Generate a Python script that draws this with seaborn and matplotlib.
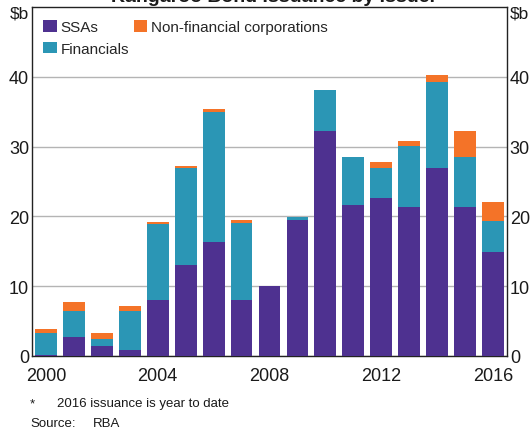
import matplotlib
matplotlib.use("Agg")
import matplotlib.pyplot as plt
import seaborn as sns
import numpy as np
import pandas as pd
from matplotlib.ticker import FixedLocator, MultipleLocator

years = [str(y) for y in range(2000, 2017)]
ssas = [0.2, 2.7, 1.5, 0.8, 8.0, 13.0, 16.4, 8.0, 10.0, 19.5, 32.2, 21.7, 22.6, 21.4, 27.0, 21.3, 14.9]
financials = [3.1, 3.7, 1.0, 5.6, 10.9, 14.0, 18.6, 11.0, 0.0, 0.35, 5.95, 6.8, 4.3, 8.65, 12.2, 7.2, 4.4]
nonfin = [0.5, 1.3, 0.8, 0.7, 0.25, 0.25, 0.45, 0.45, 0.0, 0.0, 0.0, 0.0, 0.9, 0.7, 1.05, 3.7, 2.75]
xlabels = ["2000", "2004", "2008", "2012", "2016"]
yticks = [0, 10, 20, 30, 40]

c_ssa = "#4E3190"
c_fin = "#2B96B5"
c_nfc = "#F47328"

df = pd.DataFrame({"year": years, "ssa": ssas, "fin": financials, "nfc": nonfin})
df["l2"] = df["ssa"] + df["fin"]
df["l3"] = df["l2"] + df["nfc"]

sns.set_style("white")
plt.rcParams["font.family"] = ["Liberation Sans", "DejaVu Sans"]

W, H = 530, 431
fig = plt.figure(figsize=(W / 100, H / 100), dpi=100)
ax = fig.add_axes([32 / W, (H - 357) / H, (507 - 32) / W, (357 - 8) / H])

bw = 0.78
sns.barplot(data=df, x="year", y="l3", color=c_nfc, width=bw, ax=ax, saturation=1, linewidth=0, zorder=3, label="Non-financial corporations")
sns.barplot(data=df, x="year", y="l2", color=c_fin, width=bw, ax=ax, saturation=1, linewidth=0, zorder=4, label="Financials")
sns.barplot(data=df, x="year", y="ssa", color=c_ssa, width=bw, ax=ax, saturation=1, linewidth=0, zorder=5, label="SSAs")

ax.set_xlim(-0.5, len(years) - 0.5)
ax.set_ylim(0, 50)
ax.set_xlabel("")
ax.set_ylabel("")

ax.yaxis.set_major_locator(FixedLocator(yticks))
ax.set_yticklabels([str(v) for v in yticks])
ax.yaxis.grid(True, color="#B4B4B4", linewidth=1.0, zorder=0)
ax.set_axisbelow(True)
ax.tick_params(axis="y", which="both", length=0, labelsize=13, pad=2,
               left=True, right=True, labelleft=True, labelright=True, colors="#1a1a1a")

pos = [years.index(l) for l in xlabels]
ax.set_xticks(pos)
ax.set_xticklabels(xlabels)
ax.xaxis.set_minor_locator(FixedLocator([i + 0.5 for i in range(len(years) - 1)]))
ax.tick_params(axis="x", which="major", length=0, labelsize=13, pad=8, colors="#1a1a1a")
ax.tick_params(axis="x", which="minor", length=5, width=1, direction="in", color="#222222")

for s in ax.spines.values():
    s.set_visible(True)
    s.set_color("#222222")
    s.set_linewidth(1.0)

handles, labels = ax.get_legend_handles_labels()
order = {lab: h for h, lab in zip(handles, labels)}
hl = [order["SSAs"], order["Financials"], order["Non-financial corporations"]]
ll = ["SSAs", "Financials", "Non-financial corporations"]
leg = ax.legend(hl, ll, ncol=2, loc="upper left", frameon=False,
                bbox_to_anchor=(43 / W, 1 - 21 / H), bbox_transform=fig.transFigure,
                fontsize=11.0, handlelength=0.9, handleheight=0.8, handletextpad=0.25,
                columnspacing=0.3, labelspacing=0.5, borderpad=0, borderaxespad=0)

fig.text(29 / W, 1 - 14 / H, "$b", ha="right", va="center", fontsize=12.5, color="#1a1a1a")
fig.text(510 / W, 1 - 14 / H, "$b", ha="left", va="center", fontsize=12.5, color="#1a1a1a")

fig.text(278 / W, 1 - 1.5 / H, "Kangaroo Bond Issuance by Issuer*", ha="center", va="baseline",
         fontsize=14, fontweight="bold", color="#1a1a1a")

fig.text(30 / W, 1 - 404 / H, "*", ha="left", va="center", fontsize=9.5, color="#1a1a1a")
fig.text(57 / W, 1 - 404 / H, "2016 issuance is year to date", ha="left", va="center", fontsize=9.5, color="#1a1a1a")
fig.text(30 / W, 1 - 424 / H, "Source:", ha="left", va="center", fontsize=9.5, color="#1a1a1a")
fig.text(93 / W, 1 - 424 / H, "RBA", ha="left", va="center", fontsize=9.5, color="#1a1a1a")

fig.savefig("out.png", dpi=100)
